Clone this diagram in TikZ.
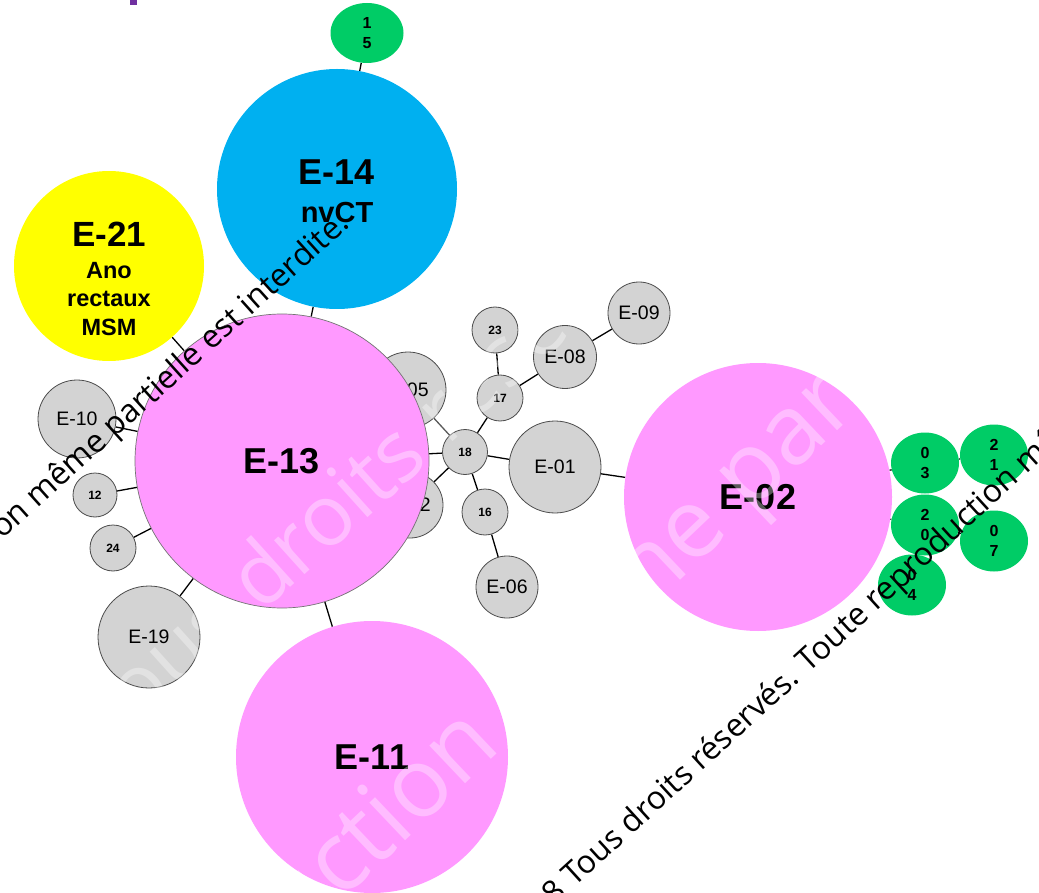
\documentclass[tikz,border=0pt]{standalone}
\usepackage{fontspec}
\setmainfont{Liberation Sans}
\newfontfamily\wmfont{Open Sans}
\usetikzlibrary{shapes.geometric,backgrounds}

\definecolor{pinkST}{HTML}{FF99FF}
\definecolor{blueST}{HTML}{00B0F0}
\definecolor{yellowST}{HTML}{FFFF00}
\definecolor{greenST}{HTML}{00CC66}
\definecolor{greyST}{HTML}{D3D3D3}
\definecolor{titlePurple}{HTML}{7030A0}

\tikzset{
  bigst/.style={circle, inner sep=0, minimum size=#1,
    font=\bfseries\fontsize{36}{40}\selectfont},
  greyst/.style={circle, fill=greyST, draw=black!70, line width=0.8,
    inner sep=0, minimum size=#1, font=\fontsize{19.5}{22}\selectfont},
  smallst/.style={greyst=#1, font=\bfseries\fontsize{12}{13}\selectfont},
  greenst/.style={ellipse, fill=greenST, inner sep=0, minimum width=68,
    minimum height=61, align=center, font=\bfseries\fontsize{16}{20}\selectfont},
  txtlab/.style={inner sep=0, anchor=base, font=\bfseries\fontsize{#1}{#1}\selectfont},
  link/.style={line width=1.3, black},
  wmark/.style={inner sep=0, font=\wmfont\fontsize{32}{32}\selectfont, black},
  wmbig/.style={inner sep=0, font=\wmfont\fontsize{#1}{#1}\selectfont,
    white, opacity=0.35},
}

\begin{document}
\begin{tikzpicture}[x=1pt, y=-1pt]
\useasboundingbox (0,0) rectangle (1039,893);
\clip (0,0) rectangle (1039,893);

% fragment of the slide title above the graph
\fill[titlePurple] (130,0) rectangle (137,5);

% ---- grey strains (E-05 and E-22 sit partly behind E-13) ----
\node[greyst=76] (e05) at (408,390) {E-05};
\node[greyst=66] (e22) at (410,505) {E-22};

% ---- large clusters ----
\node[bigst=240, fill=blueST] (e14) at (337,189) {};
\node[bigst=190, fill=yellowST] (e21) at (109,266) {};
\node[bigst=294, fill=pinkST, draw=black!55, line width=0.7] (e13) at (282,461) {E-13};
\node[bigst=272, fill=pinkST] (e11) at (372,757) {E-11};
\node[bigst=268, fill=pinkST] (e02) at (758,497) {E-02};

\node[txtlab=36] (e14a) at (337,185) {E-14};
\node[txtlab=29] (e14b) at (337,223) {nvCT};
\node[txtlab=35] (e21a) at (109,247) {E-21};
\node[txtlab=23.5] (e21b) at (109,279) {Ano};
\node[txtlab=23.5] (e21c) at (109,307) {rectaux};
\node[txtlab=23.5] (e21d) at (109,335) {MSM};

% ---- grey strains around E-13 ----
\node[greyst=78] (e10) at (77,419) {E-10};
\node[smallst=44] (n12) at (95,495) {12};
\node[smallst=46] (n24) at (113,548) {24};
\node[greyst=102] (e19) at (149,637) {E-19};

% ---- central star ----
\node[smallst=45] (n18) at (465,452) {18};
\node[smallst=46] (n17) at (500,398) {17};
\node[smallst=46] (n23) at (495,330) {23};
\node[greyst=63] (e08) at (565,357) {E-08};
\node[greyst=62] (e09) at (639,313) {E-09};
\node[greyst=92] (e01) at (555,467) {E-01};
\node[smallst=46] (n16) at (485,512) {16};
\node[greyst=62] (e06) at (507,587) {E-06};

% ---- green strains ----
\node[greenst, minimum width=73, minimum height=60] (n15) at (367,33) {1\\5};
\node[greenst] (n03) at (925,463) {0\\3};
\node[greenst] (n21) at (994,455) {2\\1};
\node[greenst] (n20) at (925,525) {2\\0};
\node[greenst] (n07) at (994,541) {0\\7};
\node[greenst] (n04) at (912,585) {0\\4};

% ---- links ----
\begin{pgfonlayer}{background}
  \draw[link] (e14) -- (n15);
  \draw[link] (e13) -- (e14);
  \draw[link] (e13) -- (e21);
  \draw[link] (e13) -- (e10);
  \draw[link] (e13) -- (n12);
  \draw[link] (e13) -- (n24);
  \draw[link] (e13) -- (e19);
  \draw[link] (e13) -- (e11);
  \draw[link] (n18) -- (e05);
  \draw[link] (n18) -- (e13);
  \draw[link] (n18) -- (e22);
  \draw[link] (n18) -- (n17);
  \draw[link] (n17) -- (n23);
  \draw[link] (n17) -- (e08);
  \draw[link] (e08) -- (e09);
  \draw[link] (n18) -- (e01);
  \draw[link] (n18) -- (n16);
  \draw[link] (n16) -- (e06);
  \draw[link] (e01) -- (e02);
  \draw[link] (e02) -- (n03);
  \draw[link] (e02) -- (n20);
  \draw[link] (n03) -- (n21);
  \draw[link] (n20) -- (n07);
  \draw[link] (n20) -- (n04);
\end{pgfonlayer}

% ---- faint copyright watermark ----
\coordinate (wa) at (261,614);
\node[wmbig=85, rotate=42, anchor=base east] (wa1) at (wa) {2018 Tous\kern0.26em};
\node[wmbig=85, rotate=42, anchor=base west] (wa2) at (wa) {droits réservés. Toute reproduction};
\coordinate (wb) at (341,902);
\node[wmbig=97, rotate=43.5, anchor=base east] (wb1) at (wb) {Toute reprodu};
\node[wmbig=97, rotate=43.5, anchor=base west] (wb2) at (wb) {ction même partielle est interdite.};

% ---- dark copyright watermark ----
\node[wmark, rotate=42, anchor=base east] (wl) at (351,226)
  {Toute reproduction même partielle est interdite.};
\coordinate (wr) at (574,888);
\node[wmark, rotate=42.4, anchor=base east] (wr1) at (wr) {2018\kern0.26em};
\node[wmark, rotate=42.4, anchor=base west] (wr2) at (wr)
  {Tous droits réservés. Toute reproduction même partielle est interdite.};
\end{tikzpicture}
\end{document}
